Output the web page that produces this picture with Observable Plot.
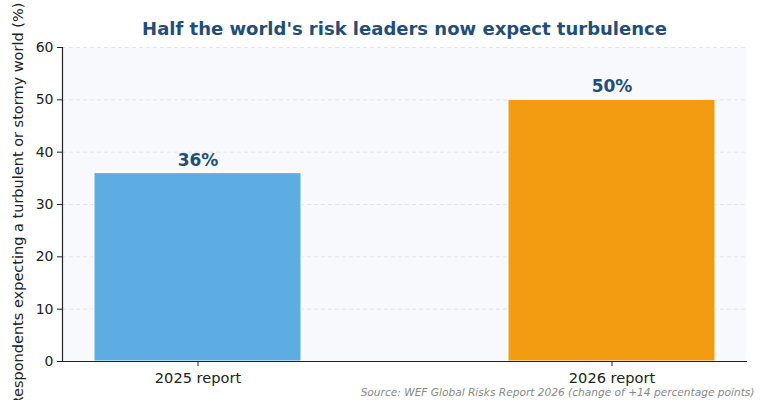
<!DOCTYPE html>
<html>
<head>
<meta charset="utf-8">
<script src="https://cdn.jsdelivr.net/npm/d3@7"></script>
<script src="https://cdn.jsdelivr.net/npm/@observablehq/plot@0.6"></script>
<style>
  html, body { margin: 0; padding: 0; background: #ffffff; }
  #chart { width: 762px; height: 400px; overflow: hidden; }
  svg { font-family: "DejaVu Sans", sans-serif; }
</style>
</head>
<body>
<div id="chart"></div>
<script>
const categories = ["2025 report", "2026 report"];
const values = [36, 50];
const barColors = ["#5DADE2", "#F39C12"];
const valueLabels = ["36%", "50%"];
const yTicks = [0, 10, 20, 30, 40, 50, 60];
const gridTicks = [10, 20, 30, 40, 50, 60];
const titleText = "Half the world's risk leaders now expect turbulence";
const yLabel = "Respondents expecting a turbulent or stormy world (%)";
const captionText = "Source: WEF Global Risks Report 2026 (change of +14 percentage points)";

const data = categories.map((c, i) => ({category: c, value: values[i], color: barColors[i], label: valueLabels[i]}));

const chart = Plot.plot({
  width: 762,
  height: 400,
  marginLeft: 62,
  marginRight: 16,
  marginTop: 47,
  marginBottom: 39,
  style: {fontFamily: "DejaVu Sans, sans-serif", background: "#ffffff", overflow: "visible"},
  x: {domain: categories, paddingInner: 0.5, paddingOuter: 0.076, label: null},
  y: {domain: [0, 60], label: null},
  marks: [
    Plot.frame({fill: "#F8F9FC", stroke: null}),
    Plot.gridY(gridTicks, {stroke: "#dde1e8", strokeOpacity: 1, strokeDasharray: "4,3", strokeWidth: 0.8}),
    Plot.barY(data, {x: "category", y: "value", fill: "color", stroke: "#ffffff", strokeWidth: 1}),
    Plot.text(data, {x: "category", y: "value", text: "label", dy: -13, fill: "#1F4E79", fontWeight: "bold", fontSize: 17}),
    Plot.axisY(yTicks, {tickSize: 5, tickPadding: 4, fontSize: 14, color: "#222", stroke: "#222", label: null}),
    Plot.axisX({tickSize: 5, tickPadding: 6, fontSize: 14.6, color: "#222", label: null}),
    Plot.frame({anchor: "left", stroke: "#222", strokeWidth: 1.2}),
    Plot.frame({anchor: "bottom", stroke: "#222", strokeWidth: 1.2}),
    Plot.text([titleText], {frameAnchor: "top", dy: -25, text: d => d, fill: "#1F4E79", fontWeight: "bold", fontSize: 18}),
    Plot.text([yLabel], {frameAnchor: "left", dx: -44, rotate: -90, textAnchor: "middle", text: d => d, fill: "#222", fontSize: 14.5}),
    Plot.text([captionText], {frameAnchor: "bottom-right", dx: 8, dy: 34, textAnchor: "end", text: d => d, fill: "#888", fontStyle: "italic", fontSize: 10.6})
  ]
});
document.getElementById("chart").appendChild(chart);
</script>
</body>
</html>
